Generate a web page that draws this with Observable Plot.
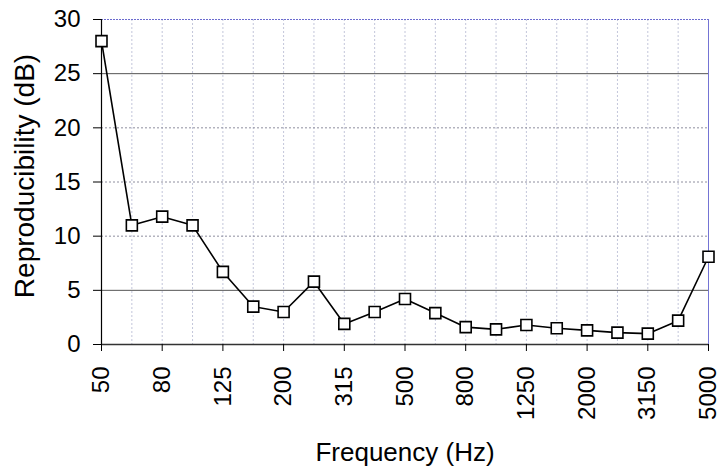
<!DOCTYPE html>
<html>
<head>
<meta charset="utf-8">
<script src="https://cdn.jsdelivr.net/npm/d3@7"></script>
<script src="https://cdn.jsdelivr.net/npm/@observablehq/plot@0.6"></script>
<style>
  html, body { margin: 0; padding: 0; background: white; }
</style>
</head>
<body>
<div id="chart"></div>
<script>
const freqs = ["50","63","80","100","125","160","200","250","315","400","500","630","800","1000","1250","1600","2000","2500","3150","4000","5000"];
const reproducibility = [28.0,11.0,11.8,11.0,6.7,3.5,3.0,5.8,1.9,3.0,4.2,2.9,1.6,1.4,1.8,1.5,1.3,1.1,1.0,2.2,8.1];
const xTickLabels = ["50","80","125","200","315","500","800","1250","2000","3150","5000"];
const yTicks = [0,5,10,15,20,25,30];
const xTitle = "Frequency (Hz)";
const yTitle = "Reproducibility (dB)";

const data = freqs.map((f, i) => ({freq: f, value: reproducibility[i]}));

const chart = Plot.plot({
  width: 721,
  height: 466,
  marginLeft: 101,
  marginRight: 13,
  marginTop: 19,
  marginBottom: 122,
  style: {fontFamily: "'Liberation Sans', Arial, sans-serif", fontSize: "24px", background: "white", color: "black"},
  x: {type: "point", domain: freqs, padding: 0, round: false},
  y: {domain: [0, 30]},
  marks: [
    Plot.ruleX(freqs, {stroke: "#c3c6da", strokeDasharray: "2,2"}),
    Plot.ruleY([10, 15, 20], {stroke: "#8e8e9e", strokeDasharray: "2,2"}),
    Plot.ruleY([5, 25], {stroke: "#555"}),
    Plot.ruleY([30], {stroke: "#6b6bcf", strokeDasharray: "2,1"}),
    Plot.ruleX(["5000"], {stroke: "#7474d4"}),
    Plot.ruleY([0], {stroke: "#333", strokeWidth: 1.5}),
    Plot.ruleX(["50"], {stroke: "black", strokeWidth: 1.2}),
    Plot.axisY({ticks: yTicks, tickSize: 8, tickPadding: 13, fontSize: 24, label: null}),
    Plot.axisX({ticks: xTickLabels, tickSize: 7, tickPadding: 15, tickRotate: -90, fontSize: 24, label: null}),
    Plot.line(data, {x: "freq", y: "value", stroke: "black", strokeWidth: 1.6}),
    Plot.dot(data, {x: "freq", y: "value", symbol: "square", r: 6.2, fill: "white", stroke: "black", strokeWidth: 1.6}),
    Plot.text([xTitle], {frameAnchor: "bottom", dy: 108, lineAnchor: "middle", textAnchor: "middle", fontSize: 26}),
    Plot.text([yTitle], {frameAnchor: "left", rotate: -90, dx: -76, dy: -6, lineAnchor: "middle", textAnchor: "middle", fontSize: 28})
  ]
});
document.getElementById("chart").appendChild(chart);
</script>
</body>
</html>
